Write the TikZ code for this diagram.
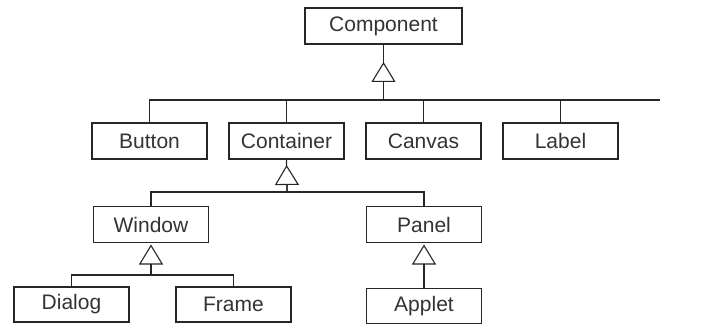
\documentclass[tikz,border=0pt]{standalone}
\usepackage{fontspec}
\setmainfont{Liberation Sans}
\usetikzlibrary{arrows.meta,positioning}

\begin{document}
\begin{tikzpicture}[
  x=1pt,y=1pt,
  font=\fontsize{21}{24}\selectfont,
  class/.style={
    draw=black!85,
    fill=white,
    text=black!80,
    line width=1.3pt,
    minimum width=115pt,
    minimum height=36pt,
    inner sep=0pt,
    outer sep=0pt
  },
  link/.style={
    draw=black!85,
    line width=1.2pt
  },
  inherit arrow/.style={
    -{Triangle[open,fill=white,length=20pt,width=24pt,line width=1.1pt]},
    draw=black!85,
    line width=1.2pt
  }
]
\useasboundingbox (0,0) rectangle (703,324);

\node[class,minimum width=157pt] (component) at (383.5,298) {Component};

\node[class] (button) at (149.5,183) {Button};
\node[class,right=22pt of button] (container) {Container};
\node[class,right=22pt of container] (canvas) {Canvas};
\node[class,right=22pt of canvas] (label) {Label};

\node[class] (window) at (151,99.5) {Window};
\node[class] (panel) at (424,99.5) {Panel};

\node[class,minimum height=35pt] (dialog) at (71.5,19.5) {Dialog};
\node[class,minimum height=35pt,right=47pt of dialog] (frame) {Frame};
\node[class,minimum height=35pt,below=46pt of panel] (applet) {Applet};

% top level bus
\coordinate (bus-end) at (660,224);
\coordinate (cont-bus) at (287,132);
\coordinate (win-bus) at (151,49);

\draw[link] (button.north) |- (bus-end);
\draw[link] (container.north) -- (container.north |- bus-end);
\draw[link] (canvas.north) -- (canvas.north |- bus-end);
\draw[link] (label.north) -- (label.north |- bus-end);
\draw[link] (component.south) -- (component.south |- bus-end);
\draw[inherit arrow,shorten >=18pt] (component.south |- bus-end) -- (component.south);

% container subclasses
\draw[link] (window.north) |- (cont-bus) -| (panel.north);
\draw[link] (container.south) -- (cont-bus);
\draw[inherit arrow,shorten >=6pt] (cont-bus) -- (container.south);

% window subclasses
\draw[link] (dialog.north) |- (win-bus) -| (frame.north);
\draw[inherit arrow,shorten >=2pt] (win-bus) -- (window.south);

% panel subclass
\draw[inherit arrow,shorten >=2pt] (applet.north) -- (panel.south);

\end{tikzpicture}
\end{document}
